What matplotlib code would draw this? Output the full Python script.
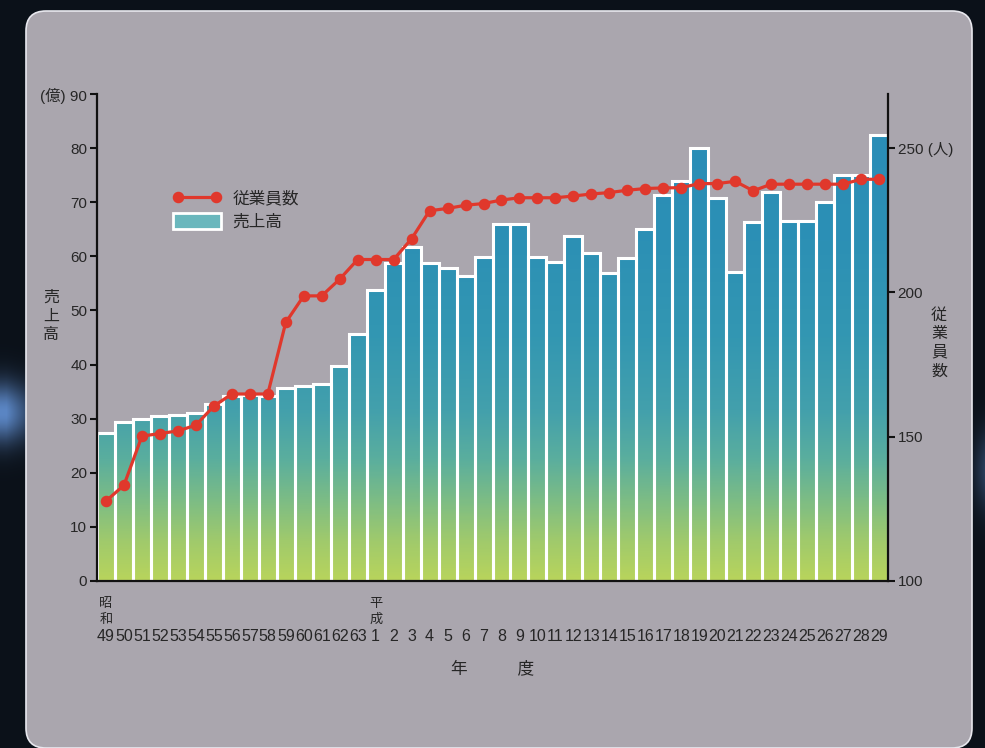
import numpy as np
import matplotlib
matplotlib.use('Agg')
import matplotlib.pyplot as plt
from matplotlib.colors import LinearSegmentedColormap
from matplotlib.patches import FancyBboxPatch, Patch
from matplotlib.lines import Line2D

plt.rcParams['font.family'] = ['Liberation Sans', 'Noto Sans CJK JP', 'DejaVu Sans']

# ---------------- data ----------------
years = ['49', '50', '51', '52', '53', '54', '55', '56', '57', '58', '59', '60', '61', '62', '63',
         '1', '2', '3', '4', '5', '6', '7', '8', '9', '10', '11', '12', '13', '14', '15',
         '16', '17', '18', '19', '20', '21', '22', '23', '24', '25', '26', '27', '28', '29']
sales = [27.3, 29.3, 29.9, 30.5, 30.7, 31.1, 32.8, 34.2, 34.3, 34.2, 35.7, 36.0, 36.4, 39.8, 45.7,
         53.7, 58.7, 61.7, 58.8, 57.8, 56.3, 59.9, 65.9, 65.9, 59.9, 58.9, 63.8, 60.7, 57.0, 59.7,
         65.0, 71.4, 73.9, 80.0, 70.7, 57.1, 66.3, 71.9, 66.6, 66.6, 70.1, 75.1, 75.1, 82.4]
employees = [127.7, 133.2, 150.2, 151.1, 152.0, 154.0, 160.6, 164.8, 164.8, 164.8, 189.6, 198.8, 198.8, 204.6, 211.4,
             211.4, 211.4, 218.6, 228.3, 229.1, 230.2, 230.8, 232.0, 232.8, 232.8, 232.8, 233.4, 234.1, 234.6, 235.4,
             236.0, 236.2, 236.3, 237.7, 237.7, 238.5, 235.2, 237.5, 237.5, 237.5, 237.5, 237.5, 239.2, 239.2]
era_names = ['昭\n和', '平\n成']
era_starts = ['49', '1']
left_ticks = [0, 10, 20, 30, 40, 50, 60, 70, 80, 90]
left_ticklabels = ['0', '10', '20', '30', '40', '50', '60', '70', '80', '(億) 90']
right_ticks = [100, 150, 200, 250]
right_ticklabels = ['100', '150', '200', '250 (人)']

W, H = 985, 748
fig = plt.figure(figsize=(W / 100, H / 100), dpi=100)
fig.patch.set_facecolor('#0b1119')

# ---------------- background ----------------
bg = fig.add_axes([0, 0, 1, 1], zorder=-10)
bg.set_xlim(0, W)
bg.set_ylim(H, 0)
bg.axis('off')
yy, xx = np.mgrid[0:H, 0:W]
base = np.array([11, 17, 25], float) / 255
glow_col = np.array([95, 140, 205], float) / 255
gl = np.exp(-((yy - 412) / 30.0) ** 2) * np.clip(1.15 - xx / 40.0, 0, 1) * 0.95
gr = np.exp(-((yy - 470) / 40.0) ** 2) * np.clip((xx - 968) / 20.0, 0, 1) * 0.45
g = np.clip(gl + gr, 0, 1)[..., None]
img = base * (1 - g) + glow_col * g
bg.imshow(img, extent=(0, W, H, 0), aspect='auto', interpolation='bilinear')
panel = FancyBboxPatch((26, 11), 946, 737, boxstyle='round,pad=0,rounding_size=20',
                       facecolor='#aaa6ae', edgecolor='#e8e8ee', linewidth=1.2)
bg.add_patch(panel)
band = np.zeros((H, 1, 4))
yv = np.arange(H)
band[:, 0, 0:3] = np.array([200, 210, 225]) / 255
band[:, 0, 3] = 0.55 * np.exp(-((yv - 440) / 45.0) ** 2)
bim = bg.imshow(band, extent=(0, W, H, 0), aspect='auto', interpolation='bilinear')
bim.set_clip_path(panel)
bg.set_xlim(0, W)
bg.set_ylim(H, 0)

# ---------------- main axes ----------------
ax = fig.add_axes([97 / W, (H - 581) / H, 791 / W, 487 / H])
ax.patch.set_alpha(0)
x = np.arange(len(years))
bars = ax.bar(x, sales, width=1.0, facecolor='none', edgecolor='white', linewidth=2.2, zorder=3)

cmap = LinearSegmentedColormap.from_list('salesgrad', [
    (0.00, '#b8d45c'), (0.08, '#a0ca6c'), (0.16, '#7ebd84'), (0.25, '#5aae9e'),
    (0.35, '#43a0ac'), (0.50, '#3397b2'), (0.70, '#2c90b5'), (1.00, '#2a8cb7')])
ymax_left = 90
for b in bars:
    x0, w, h = b.get_x(), b.get_width(), b.get_height()
    grad = np.linspace(0, h / ymax_left, 200).reshape(-1, 1)
    ax.imshow(grad, origin='lower', extent=(x0, x0 + w, 0, h), cmap=cmap, vmin=0, vmax=1,
              aspect='auto', interpolation='bilinear', zorder=2)

ax.set_xlim(-0.5, len(years) - 0.5)
ax.set_ylim(0, ymax_left)
ax.set_yticks(left_ticks)
ax.set_yticklabels(left_ticklabels)
ax.set_xticks(x)
ax.set_xticklabels(years, family=['Liberation Sans Narrow', 'Liberation Sans'])
for s in ['top', 'right']:
    ax.spines[s].set_visible(False)
for s in ['left', 'bottom']:
    ax.spines[s].set_color('#111111')
    ax.spines[s].set_linewidth(1.6)
    ax.spines[s].set_zorder(6)
ax.tick_params(axis='y', direction='out', length=5, width=1.5, color='#111111',
               labelcolor='#262626', labelsize=11, pad=2)
ax.tick_params(axis='x', length=0, labelcolor='#262626', labelsize=11.5, pad=34.5)

for name, start in zip(era_names, era_starts):
    i = years.index(start)
    top, bottom = name.split('\n')
    ax.annotate(top, xy=(i, 0), xytext=(0, -16.5), textcoords='offset points',
                ha='center', va='center', fontsize=9.5, color='#262626',
                annotation_clip=False)
    ax.annotate(bottom, xy=(i, 0), xytext=(0, -27.8), textcoords='offset points',
                ha='center', va='center', fontsize=9.5, color='#262626',
                annotation_clip=False)

ax.set_xlabel('年\u3000\u3000\u3000度', fontsize=12, color='#262626', va='center')
ax.xaxis.set_label_coords(0.5, (581 - 668) / 487)
ax.set_ylabel('売\n上\n高', rotation=0, fontsize=11.5, color='#262626',
              ha='center', va='center', linespacing=1.3)
ax.yaxis.set_label_coords((51 - 97) / 791, (581 - 316) / 487)

# ---------------- employees (right axis) ----------------
ax2 = ax.twinx()
ax2.plot(x, employees, color='#e0382c', linewidth=2.3, marker='o', markersize=7.3,
         zorder=5)
ax2.set_ylim(100, 100 + 90 * 150 / 80)
ax2.set_yticks(right_ticks)
ax2.set_yticklabels(right_ticklabels)
for s in ['top', 'left', 'bottom']:
    ax2.spines[s].set_visible(False)
ax2.spines['right'].set_color('#111111')
ax2.spines['right'].set_linewidth(1.6)
ax2.tick_params(axis='y', direction='out', length=5, width=1.5, color='#111111',
                labelcolor='#262626', labelsize=11, pad=2)
ax2.set_ylabel('従\n業\n員\n数', rotation=0, fontsize=11.5, color='#262626',
               ha='center', va='center', linespacing=1.3)
ax2.yaxis.set_label_coords((939 - 97) / 791, (581 - 343) / 487)

# ---------------- legend ----------------
handles = [Line2D([], [], color='#e0382c', linewidth=2.3, marker='o', markersize=7.3),
           Patch(facecolor='#6ab7bd', edgecolor='white', linewidth=2)]
leg = ax.legend(handles, ['従業員数', '売上高'], loc='upper left',
                bbox_to_anchor=(173 / W, 1 - 190 / H), bbox_transform=fig.transFigure,
                frameon=False, fontsize=12, numpoints=2, handlelength=2.9,
                handleheight=1.05, handletextpad=0.65, labelspacing=0.4, borderpad=0,
                borderaxespad=0)
for t in leg.get_texts():
    t.set_color('#262626')

fig.savefig('out.png', dpi=100, facecolor=fig.get_facecolor())
